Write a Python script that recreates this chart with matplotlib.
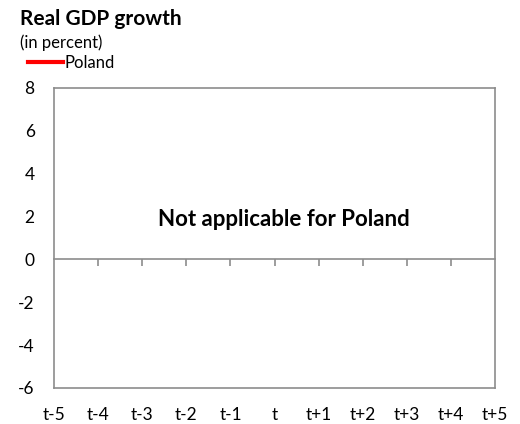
import numpy as np
import matplotlib.pyplot as plt

categories = ['t-5', 't-4', 't-3', 't-2', 't-1', 't', 't+1', 't+2', 't+3', 't+4', 't+5']
poland = [np.nan] * len(categories)  # no data for Poland
y_ticks = [-6, -4, -2, 0, 2, 4, 6, 8]

plt.rcParams['font.family'] = ['Lato', 'DejaVu Sans']
plt.rcParams['axes.unicode_minus'] = False

fig = plt.figure(figsize=(5.2, 4.24), dpi=100)
ax = fig.add_axes([0.104, 0.085, 0.848, 0.708])

x = np.arange(len(categories))
line, = ax.plot(x, poland, color='#ff0000', linewidth=3, label='Poland')

ax.set_xlim(0, len(categories) - 1)
ax.set_ylim(-6, 8)
ax.set_yticks(y_ticks)
ax.tick_params(axis='y', length=0, pad=14, labelsize=12.5)

grey = '#8c8c8c'
for s in ['left', 'right', 'top']:
    ax.spines[s].set_color(grey)
    ax.spines[s].set_linewidth(1.2)

# zero line with tick marks
ax.spines['bottom'].set_position(('data', 0))
ax.spines['bottom'].set_color(grey)
ax.spines['bottom'].set_linewidth(1.2)
ax.set_xticks(x[1:-1])
ax.tick_params(axis='x', direction='out', length=5, width=1.2, color=grey, labelbottom=False)

# category labels under the box
sec = ax.secondary_xaxis('bottom')
sec.set_xticks(x)
sec.set_xticklabels(categories)
sec.tick_params(length=0, pad=14, labelsize=12.5)
sec.spines['bottom'].set_color(grey)
sec.spines['bottom'].set_linewidth(1.2)

ax.text(0.52, 0.56, 'Not applicable for Poland', transform=ax.transAxes,
        ha='center', va='center', fontsize=16, fontweight='bold')

fig.text(0.038, 0.955, 'Real GDP growth', fontsize=15, fontweight='bold', va='center')
fig.text(0.038, 0.9, '(in percent)', fontsize=12, va='center')
fig.legend(handles=[line], loc='center left', bbox_to_anchor=(0.054, 0.852),
           frameon=False, fontsize=12, handlelength=2.1, handletextpad=0.1,
           borderaxespad=0, borderpad=0)

fig.savefig('out.png', dpi=100)
